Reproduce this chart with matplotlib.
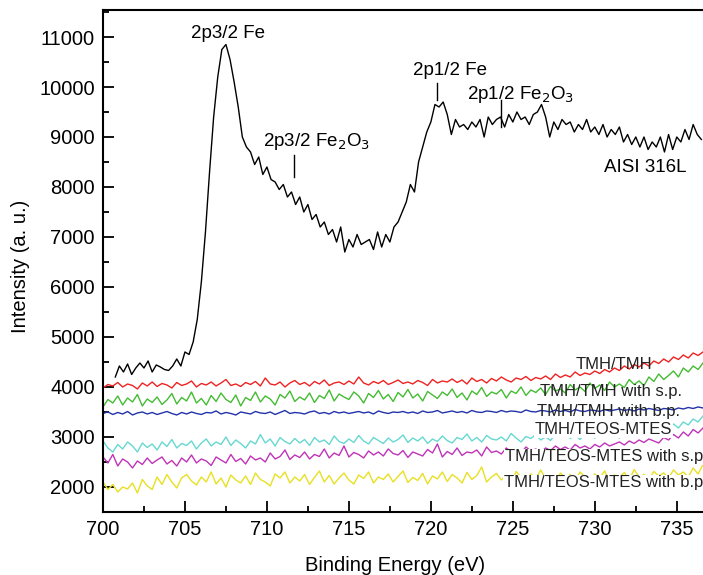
#Fe 2p XPS spectra - AISI 316L substrate and the coated samples
import numpy as np
import matplotlib.pyplot as plt

plt.rcParams['font.family'] = ['Liberation Sans', 'DejaVu Sans']

#Bare steel spectrum, 0.25 eV step from 700.75 eV
aisi_start = 700.75
aisi_step = 0.25
aisi = [4200, 4420, 4300, 4460, 4250, 4380, 4480, 4380, 4520, 4300,
        4440, 4400, 4350, 4330, 4420, 4560, 4420, 4700, 4650, 4900,
        5350, 6100, 7100, 8300, 9400, 10200, 10750, 10850, 10550, 10100,
        9600, 9000, 8800, 8700, 8450, 8600, 8250, 8400, 8150, 8100,
        7950, 8050, 7800, 7900, 7650, 7800, 7500, 7650, 7350, 7450,
        7200, 7300, 7050, 7150, 6900, 7200, 6700, 6950, 6800, 7050,
        6850, 6900, 6950, 6750, 7100, 6800, 7050, 6900, 7200, 7300,
        7500, 7700, 8050, 7900, 8500, 8800, 9100, 9300, 9650, 9600,
        9700, 9450, 9050, 9350, 9200, 9250, 9150, 9300, 9200, 9350,
        9000, 9400, 9250, 9350, 9400, 9200, 9450, 9300, 9500, 9350,
        9400, 9250, 9450, 9500, 9650, 9400, 9000, 9300, 9150, 9350,
        9250, 9300, 9100, 9250, 9150, 9350, 9100, 9200, 9050, 9250,
        9000, 9150, 9050, 9200, 8900, 9050, 8850, 9000, 8800, 9000,
        8750, 8900, 8800, 9000, 8700, 9050, 8750, 9000, 8900, 9150,
        8950, 9250, 9050, 8950]

#Coated samples, 0.3 eV step from 700 eV
coat_start = 700.0
coat_step = 0.3
tmh_tmh = [3980, 4050, 4020, 4090, 4000, 4060, 4030, 3960, 4080, 4020,
           4100, 4010, 4070, 4040, 3980, 4090, 4030, 4060, 4120, 4000,
           4070, 4040, 4100, 4020, 4080, 4150, 4030, 4060, 4010, 4090,
           4050, 4110, 4020, 4180, 4060, 4040, 4100, 4000, 4080, 4130,
           4050, 4090, 4020, 4110, 4060, 4140, 4030, 4080, 4100, 4050,
           4120, 4060, 4200, 4080, 4040, 4110, 4070, 4130, 4050, 4090,
           4140, 4070, 4100, 4060, 4130, 4090, 4030, 4150, 4080, 4120,
           4100, 4160, 4090, 4140, 4060, 4180, 4110, 4150, 4080, 4170,
           4120, 4200, 4140, 4100, 4180, 4150, 4210, 4130, 4190, 4160,
           4220, 4150, 4260, 4190, 4240, 4200, 4300, 4230, 4280, 4250,
           4320, 4270, 4350, 4300, 4380, 4330, 4420, 4360, 4450, 4400,
           4480, 4420, 4520, 4470, 4560, 4500, 4600, 4550, 4640, 4580,
           4680, 4630, 4700]
tmh_tmh_sp = [3600, 3750, 3680, 3820, 3640, 3780, 3700, 3850, 3620, 3760,
              3690, 3800, 3650, 3740, 3870, 3660, 3790, 3720, 3900, 3680,
              3770, 3640, 3830, 3710, 3880, 3750, 3690, 3840, 3620, 3790,
              3730, 3900, 3700, 3820, 3760, 3640, 3850, 3780, 3920, 3710,
              3800, 3740, 3880, 3690, 3830, 3770, 3940, 3720, 3860, 3800,
              3750, 3900, 3820, 3680, 3870, 3790, 3930, 3760, 3850, 3710,
              3890, 3800, 3950, 3780, 3860, 3720, 3910, 3840, 3770, 3900,
              3830, 3960, 3790, 3880, 3740, 3920, 3850, 3990, 3810, 3900,
              3860, 3950, 3780, 3920, 3870, 4000, 3830, 3940, 3890, 3980,
              3850, 4010, 3920, 3960, 3880, 4050, 3940, 4000, 3910, 4080,
              3970, 4040, 3930, 4100, 4000, 4060, 3990, 4150, 4050, 4120,
              4030, 4200, 4110, 4260, 4150, 4230, 4320, 4200, 4380, 4300,
              4420, 4350, 4480]
tmh_tmh_bp = [3470, 3500, 3450, 3490, 3460, 3510, 3440, 3480, 3500, 3460,
              3490, 3450, 3480, 3510, 3470, 3440, 3490, 3460, 3500, 3470,
              3450, 3490, 3480, 3520, 3460, 3490, 3470, 3440, 3500, 3480,
              3460, 3510, 3480, 3470, 3500, 3450, 3490, 3530, 3470, 3490,
              3480, 3460, 3500, 3520, 3470, 3490, 3460, 3510, 3480, 3500,
              3470, 3490, 3510, 3480, 3500, 3460, 3520, 3490, 3470, 3500,
              3490, 3510, 3480, 3500, 3470, 3520, 3490, 3500, 3530, 3480,
              3500, 3520, 3490, 3510, 3480, 3530, 3500, 3490, 3520, 3510,
              3490, 3530, 3500, 3520, 3510, 3490, 3540, 3510, 3500, 3530,
              3520, 3500, 3540, 3510, 3530, 3500, 3550, 3520, 3510, 3540,
              3530, 3510, 3550, 3520, 3540, 3560, 3530, 3550, 3520, 3560,
              3540, 3570, 3550, 3530, 3570, 3560, 3540, 3580, 3560, 3590,
              3570, 3600, 3580]
teos = [2920, 2780, 2700, 2850, 2760, 2900, 2820, 2700, 2880, 2790,
        2860, 2740, 2900, 2810, 2950, 2780, 2870, 2830, 2920, 2760,
        2880, 2960, 2820, 2900, 2850, 3000, 2830, 2940, 2870, 2780,
        2920, 2860, 3050, 2880, 2960, 2820, 2990, 2910, 2860, 2970,
        2880, 2950, 2830, 2990, 2900, 2940, 2850, 3020, 2910, 2870,
        2960, 2890, 3030, 2920, 2860, 2990, 2930, 2870, 2980, 2900,
        2950, 3040, 2890, 2980, 2920, 3000, 2870, 2960, 2910, 3020,
        2930, 2880, 2990, 2950, 3060, 2920, 2990, 2900, 3030, 2960,
        2940, 3000, 2920, 3070, 2980, 2900, 3010, 2970, 3050, 2940,
        3000, 2930, 3060, 2990, 3120, 2970, 3030, 2950, 3080, 3010,
        2980, 3050, 3000, 3100, 3030, 2980, 3070, 3020, 3130, 3060,
        3100, 3050, 3160, 3110, 3200, 3150, 3260, 3180, 3300, 3240,
        3360, 3300, 3420]
teos_sp = [2600, 2480, 2650, 2420, 2560, 2500, 2380, 2520, 2450, 2580,
           2470, 2540, 2600, 2460, 2530, 2420, 2580, 2500, 2640, 2480,
           2560, 2520, 2430, 2600, 2540, 2480, 2650, 2510, 2570, 2460,
           2620, 2540, 2580, 2500, 2680, 2560, 2610, 2740, 2550, 2640,
           2590, 2700, 2560, 2650, 2610, 2760, 2580, 2680, 2630, 2820,
           2600, 2690, 2650, 2580, 2720, 2640, 2700, 2620, 2760, 2670,
           2640, 2730, 2590, 2700, 2660, 2620, 2750, 2680, 2860, 2600,
           2710, 2650, 2780, 2630, 2700, 2680, 2740, 2620, 2800, 2690,
           2720, 2660, 2780, 2700, 2740, 2680, 2800, 2720, 2760, 2700,
           2780, 2730, 2820, 2750, 2800, 2740, 2850, 2780, 2820, 2760,
           2850, 2800, 2880, 2820, 2860, 2900, 2840, 2920, 2870, 2940,
           2890, 2960, 2920, 2880, 2990, 2940, 3050, 2980, 3100, 3020,
           3150, 3080, 3180]
teos_bp = [2100, 1950, 2050, 1900, 2000, 1960, 2080, 1880, 2150, 2020,
           1950, 2200, 2050, 2250, 2100, 1980, 2180, 2250, 2120, 2040,
           2200, 2100, 2300, 2060, 2180, 2000, 2240, 2140, 2080, 2220,
           2050, 2280, 2150, 2100, 2020, 2260, 2180, 2300, 2080, 2200,
           2120, 2250, 2050, 2190, 2320, 2100, 2230, 2060, 2180, 2280,
           2140, 2060, 2240, 2170, 2300, 2080, 2200, 2150, 2260, 2100,
           2210, 2320, 2090, 2190, 2130, 2270, 2060, 2220, 2160, 2300,
           2110, 2250, 2180, 2080, 2290, 2150, 2230, 2400, 2100, 2200,
           2270, 2140, 2230, 2080, 2310, 2190, 2120, 2260, 2170, 2340,
           2160, 2220, 2090, 2280, 2180, 2250, 2130, 2300, 2200, 2150,
           2260, 2180, 2320, 2110, 2240, 2190, 2290, 2140, 2350, 2200,
           2250, 2160, 2310, 2220, 2280, 2180, 2340, 2240, 2300, 2200,
           2380, 2260, 2450]

coat_names = ['TMH/TMH', 'TMH/TMH with s.p.', 'TMH/TMH with b.p.',
              'TMH/TEOS-MTES', 'TMH/TEOS-MTES with s.p', 'TMH/TEOS-MTES with b.p']
#%%
fig = plt.figure(figsize=(7.03, 5.75), dpi=100)
ax = fig.add_axes([0.1465, 0.1096, 0.8535, 0.873])

x_aisi = aisi_start + aisi_step * np.arange(len(aisi))
x_coat = coat_start + coat_step * np.arange(len(tmh_tmh))

ax.plot(x_aisi, aisi, color='black', lw=1.0)
coat_series = [tmh_tmh, tmh_tmh_sp, tmh_tmh_bp, teos, teos_sp, teos_bp]
coat_colors = ['#ee2222', '#44bb33', '#2233aa', '#66d8d0', '#c033b8', '#e8e022']
for vals, col in zip(coat_series, coat_colors):
    ax.plot(x_coat, vals, color=col, lw=1.0)

#peak labels and marker lines
ax.text(707.6, 11080, '2p3/2 Fe', ha='center', va='center', fontsize=13.5)
ax.text(713.05, 8900, '2p3/2 Fe$_2$O$_3$', ha='center', va='center', fontsize=13.5)
ax.plot([711.65, 711.65], [8640, 8200], color='black', lw=1.0)
ax.text(721.15, 10340, '2p1/2 Fe', ha='center', va='center', fontsize=13.5)
ax.plot([720.37, 720.37], [10080, 9740], color='black', lw=1.0)
ax.text(725.5, 9860, '2p1/2 Fe$_2$O$_3$', ha='center', va='center', fontsize=13.5)
ax.plot([724.26, 724.26], [9740, 9200], color='black', lw=1.0)
ax.text(733.05, 8380, 'AISI 316L', ha='center', va='center', fontsize=13.5)

#sample labels
lab_x = [733.5, 735.3, 735.2, 734.7, 736.6, 736.6]
lab_y = [4440, 3900, 3500, 3140, 2600, 2080]
for i, name in enumerate(coat_names):
    box = None
    if i >= 3:
        box = dict(facecolor='white', edgecolor='none', pad=0.5)
    ax.text(lab_x[i], lab_y[i], name, ha='right', va='center', fontsize=12,
            color='#222222', bbox=box, zorder=5)

ax.set_xlim(700, 736.6)
ax.set_ylim(1500, 11540)
ax.set_xticks(np.arange(700, 736, 5))
ax.set_xticks(np.arange(702.5, 736, 5), minor=True)
ax.set_yticks(np.arange(2000, 11001, 1000))
ax.set_yticks(np.arange(2500, 11501, 1000), minor=True)
ax.tick_params(which='both', direction='in', width=1.3, labelsize=14.5, top=False, right=False)
ax.tick_params(which='major', length=8, pad=6)
ax.tick_params(which='minor', length=4)
ax.spines['right'].set_visible(False)
for s in ['left', 'bottom', 'top']:
    ax.spines[s].set_linewidth(1.5)

ax.set_xlabel('Binding Energy (eV)', fontsize=14.5)
ax.set_ylabel('Intensity (a. u.)', fontsize=14.5)
ax.xaxis.set_label_coords(0.487, -0.088)
ax.yaxis.set_label_coords(-0.122, 0.49)

fig.savefig('out.png', dpi=100)
